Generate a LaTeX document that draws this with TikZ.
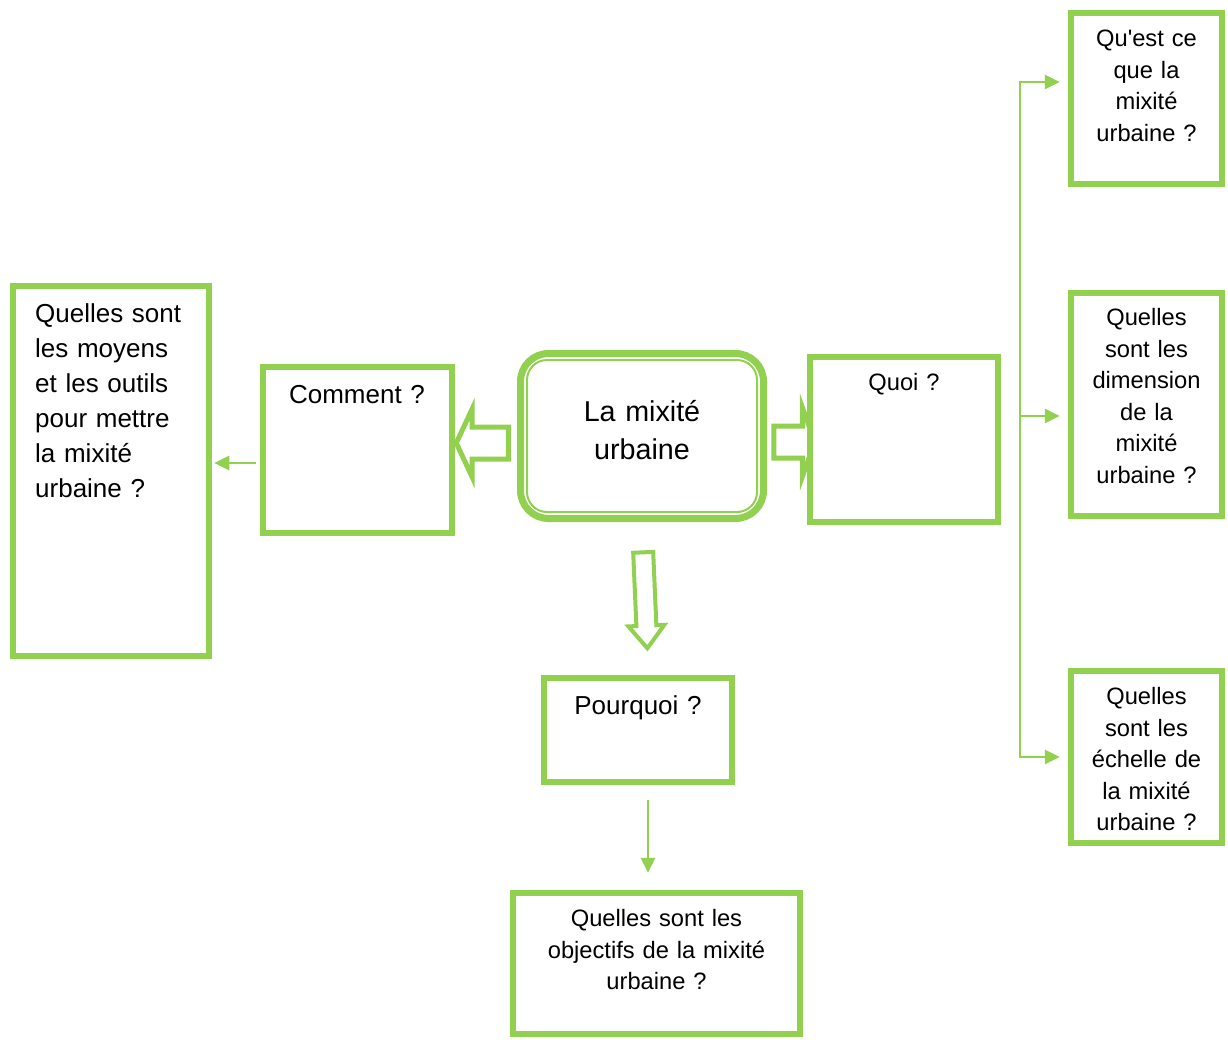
\documentclass[tikz,border=0pt]{standalone}
\usepackage{fontspec}
\setmainfont{Liberation Sans}[Ligatures=TeXOff]
\usepackage{tikz}
\usetikzlibrary{arrows.meta,shapes.arrows}
\definecolor{mixgreen}{HTML}{92D050}

\begin{document}
\begin{tikzpicture}[
  x=1pt,y=-1pt,
  qbox/.style 2 args={draw=mixgreen,fill=white,line width=6.5pt,inner sep=0pt,minimum width=#1,minimum height=#2},
  mixbox/.style={draw=mixgreen,fill=white,line width=7pt,rounded corners=28pt,inner sep=0pt,minimum width=243pt,minimum height=165pt},
  fat/.style={single arrow,draw=mixgreen,fill=white,line width=5pt,inner xsep=0pt},
  big/.style={inner sep=0pt,align=center,font=\fontsize{26}{35}\selectfont},
  small/.style={inner sep=0pt,align=center,font=\fontsize{23.7}{31.5}\selectfont},
  arr/.style={draw=mixgreen,line width=2.7pt,-{Triangle[length=15pt,width=14pt]}}
]
\useasboundingbox (0,0) rectangle (1228,1039);
\node[fat,rotate=180,minimum height=52pt,inner ysep=13.5pt,single arrow head extend=18pt,single arrow tip angle=130] (toleft) at (486,443) {};
\node[fat,minimum height=41pt,inner ysep=13.5pt,single arrow head extend=18.5pt,single arrow tip angle=140] (toright) at (791.5,442) {};
\node[fat,line width=4pt,rotate=-87.5,minimum height=96pt,inner ysep=8pt,single arrow head extend=8pt,single arrow tip angle=77] (todown) at (645,594) {};
\node[mixbox] (mix) at (642,436) {};
\draw[mixgreen,line width=2pt,rounded corners=20pt] ([shift={(10pt,-10pt)}]mix.north west) rectangle ([shift={(-10pt,10pt)}]mix.south east);
\node[qbox={196pt}{370pt}] (moyens) at (111,471) {};
\node[qbox={189pt}{166pt}] (comment) at (357.5,450) {};
\node[qbox={188pt}{165pt}] (quoi) at (904,439.5) {};
\node[qbox={188pt}{104pt}] (pourquoi) at (638,730) {};
\node[qbox={287pt}{141pt}] (objectifs) at (656.5,963.5) {};
\node[qbox={151pt}{171pt}] (defn) at (1146.5,98.5) {};
\node[qbox={151pt}{223pt}] (dimen) at (1146.5,404.5) {};
\node[qbox={151pt}{172pt}] (echel) at (1146.5,757) {};
\node[inner sep=0pt,align=center,font=\fontsize{28.7}{38}\selectfont,anchor=base,text width=220pt] (mixtxt) at (642,421) {La mixité\\urbaine};
\node[big,align=left,anchor=base west,text width=175pt] (moyenstxt) at (35,322) {Quelles sont\\les moyens\\et les outils\\pour mettre\\la mixité\\urbaine ?};
\node[big,anchor=base,text width=180pt] (commenttxt) at (357,403) {Comment ?};
\node[big,anchor=base,text width=180pt] (pourquoitxt) at (638,714) {Pourquoi ?};
\node[small,anchor=base,text width=180pt] (quoitxt) at (904,390.5) {Quoi ?};
\node[small,anchor=base,text width=280pt] (objectifstxt) at (656.5,926.5) {Quelles sont les\\objectifs de la mixité\\urbaine ?};
\node[small,anchor=base,text width=145pt] (defntxt) at (1146.5,46.5) {Qu'est ce\\que la\\mixité\\urbaine ?};
\node[small,anchor=base,text width=145pt,font=\fontsize{23.7}{31.6}\selectfont] (dimentxt) at (1146.5,325.5) {Quelles\\sont les\\dimension\\de la\\mixité\\urbaine ?};
\node[small,anchor=base,text width=145pt] (echeltxt) at (1146.5,704.5) {Quelles\\sont les\\échelle de\\la mixité\\urbaine ?};
\coordinate (s1) at (1020,82);
\coordinate (s2) at (1020,416);
\coordinate (s3) at (1020,757);
\draw[mixgreen,line width=2.7pt,line cap=rect] (s1) -- (s3);
\foreach \s/\b in {s1/defn,s2/dimen,s3/echel}
  \draw[arr,shorten >=8pt] (\s) -- (\s -| \b.west);
\draw[arr,shorten <=4pt,shorten >=2pt] ([yshift=-13pt]comment.west) -- ([yshift=-13pt]comment.west -| moyens.east);
\draw[arr,shorten <=15pt,shorten >=17pt] ([xshift=10pt]pourquoi.south) -- ([xshift=10pt]pourquoi.south |- objectifs.north);
\end{tikzpicture}
\end{document}
